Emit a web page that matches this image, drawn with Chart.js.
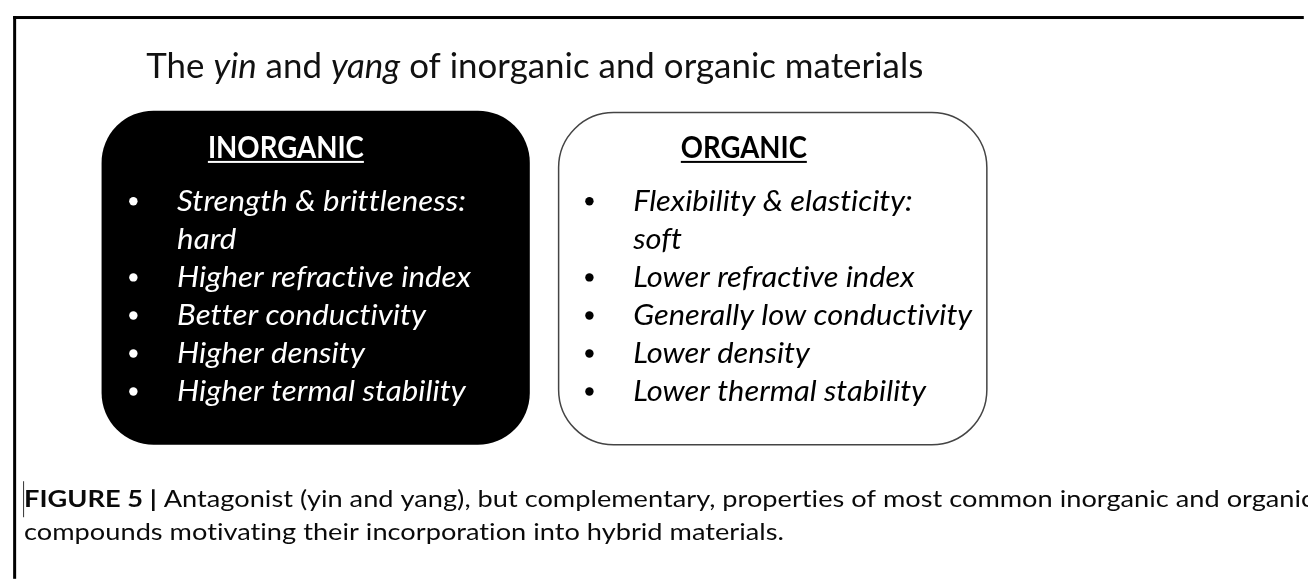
<!DOCTYPE html>
<html>
<head>
<meta charset="utf-8">
<script src="https://cdn.jsdelivr.net/npm/chart.js@4.4.0/dist/chart.umd.min.js"></script>
<style>
  html, body { margin: 0; padding: 0; background: #fff; }
  #wrap { width: 1308px; height: 583px; }
</style>
</head>
<body>
<div id="wrap"><canvas id="myChart" width="1308" height="583"></canvas></div>
<script>
// texts of the figure
var titleParts = [
    ['The ', false], ['yin', true], [' and ', false], ['yang', true], [' of inorganic and organic materials', false]
];
var inorganicHeading = 'INORGANIC';
var organicHeading = 'ORGANIC';
// each item: [line text, starts with a bullet]
var inorganicLines = [
    ['Strength & brittleness:', true],
    ['hard', false],
    ['Higher refractive index', true],
    ['Better conductivity', true],
    ['Higher density', true],
    ['Higher termal stability', true]
];
var organicLines = [
    ['Flexibility & elasticity:', true],
    ['soft', false],
    ['Lower refractive index', true],
    ['Generally low conductivity', true],
    ['Lower density', true],
    ['Lower thermal stability', true]
];
var captionLabel = 'FIGURE 5 |';
var captionLines = [
    ' Antagonist (yin and yang), but complementary, properties of most common inorganic and organic',
    'compounds motivating their incorporation into hybrid materials.'
];

var FONT = 'Lato, "Open Sans", sans-serif';

// layout (canvas pixels, mapped through the hidden linear scales)
var firstBaseline = 210, lineStep = 38.6;
var leftBox = { x0: 98, x1: 529, y0: 108, y1: 447, r: 52, bulletX: 130, textX: 174, headX: 205, headW: 156, longest: 294 };
var rightBox = { x0: 558, x1: 989, y0: 110, y1: 447, r: 55, bulletX: 589, textX: 633, headX: 681, headW: 126, longest: 339 };

function bulletPoints(lines, box) {
    var pts = [];
    lines.forEach(function (l, i) {
        if (l[1]) pts.push({ x: box.bulletX, y: firstBaseline + i * lineStep - 10 });
    });
    return pts;
}

function fontStr(italic, bold, size) {
    return (italic ? 'italic ' : '') + (bold ? 'bold ' : '') + size + 'px ' + FONT;
}

function runsWidth(ctx, runs) {
    var w = 0;
    runs.forEach(function (r) { ctx.font = r.font; w += ctx.measureText(r.text).width; });
    return w;
}

function drawRuns(ctx, runs, x, y, sx, color) {
    ctx.save();
    ctx.translate(x, y);
    ctx.scale(sx, 1);
    ctx.fillStyle = color;
    ctx.textBaseline = 'alphabetic';
    ctx.textAlign = 'left';
    var cx = 0;
    runs.forEach(function (r) {
        ctx.font = r.font;
        ctx.fillText(r.text, cx, 0);
        cx += ctx.measureText(r.text).width;
    });
    ctx.restore();
}

function roundBox(ctx, b, fill, stroke) {
    ctx.beginPath();
    ctx.roundRect(b.x0, b.y0, b.x1 - b.x0, b.y1 - b.y0, b.r);
    if (fill) { ctx.fillStyle = fill; ctx.fill(); }
    if (stroke) { ctx.strokeStyle = stroke; ctx.lineWidth = 1.5; ctx.stroke(); }
}

var figurePlugin = {
    id: 'figure',
    beforeDatasetsDraw: function (chart) {
        var ctx = chart.ctx;
        var sx = chart.scales.x, sy = chart.scales.y;
        function px(v) { return sx.getPixelForValue(v); }
        function py(v) { return sy.getPixelForValue(v); }

        ctx.save();
        // no "ti" ligatures, like the original
        if ('letterSpacing' in ctx) ctx.letterSpacing = '0.01px';

        // outer frame
        ctx.fillStyle = '#000';
        ctx.fillRect(px(9), py(12), px(1308) - px(9), 3);
        ctx.fillRect(px(9), py(12), 3, py(583) - py(12));

        // title
        var tRuns = titleParts.map(function (p) { return { text: p[0], font: fontStr(p[1], false, 35) }; });
        var tw = runsWidth(ctx, tRuns);
        drawRuns(ctx, tRuns, px(143), py(75), 777 / tw, '#111');

        // boxes
        roundBox(ctx, { x0: px(leftBox.x0), x1: px(leftBox.x1), y0: py(leftBox.y0), y1: py(leftBox.y1), r: leftBox.r }, '#000', null);
        roundBox(ctx, { x0: px(rightBox.x0), x1: px(rightBox.x1), y0: py(rightBox.y0), y1: py(rightBox.y1), r: rightBox.r }, '#fff', '#444');

        // headings, underlined
        [[inorganicHeading, leftBox, '#fff'], [organicHeading, rightBox, '#000']].forEach(function (h) {
            var runs = [{ text: h[0], font: fontStr(false, true, 30) }];
            var w = runsWidth(ctx, runs);
            var s = h[1].headW / w;
            drawRuns(ctx, runs, px(h[1].headX), py(156), s, h[2]);
            ctx.fillStyle = h[2];
            ctx.fillRect(px(h[1].headX), py(159), h[1].headW, 2);
        });

        // list lines
        [[inorganicLines, leftBox, '#fff'], [organicLines, rightBox, '#000']].forEach(function (blk) {
            var maxW = 0;
            blk[0].forEach(function (l) {
                maxW = Math.max(maxW, runsWidth(ctx, [{ text: l[0], font: fontStr(true, false, 28) }]));
            });
            var s = blk[1].longest / maxW;
            blk[0].forEach(function (l, i) {
                drawRuns(ctx, [{ text: l[0], font: fontStr(true, false, 28) }], px(blk[1].textX), py(firstBaseline + i * lineStep), s, blk[2]);
            });
        });

        // caption
        var capRuns = [{ text: captionLabel, font: fontStr(false, true, 23.5) }, { text: captionLines[0], font: fontStr(false, false, 23.5) }];
        var cw = runsWidth(ctx, capRuns);
        var cs = 1290 / cw;
        drawRuns(ctx, capRuns, px(20), py(510), cs, '#0a0a0a');
        drawRuns(ctx, [{ text: captionLines[1], font: fontStr(false, false, 23.5) }], px(20), py(544), cs, '#0a0a0a');
        ctx.fillStyle = '#333';
        ctx.fillRect(px(19), py(484), 1, 36);
        ctx.restore();
    }
};

var chart = new Chart(document.getElementById('myChart').getContext('2d'), {
    type: 'scatter',
    data: {
        datasets: [
            {
                label: 'inorganic bullets',
                data: bulletPoints(inorganicLines, leftBox),
                backgroundColor: '#fff',
                borderWidth: 0,
                pointRadius: 4.2
            },
            {
                label: 'organic bullets',
                data: bulletPoints(organicLines, rightBox),
                backgroundColor: '#000',
                borderWidth: 0,
                pointRadius: 4.2
            }
        ]
    },
    options: {
        responsive: false,
        animation: false,
        layout: { padding: 0 },
        scales: {
            x: { type: 'linear', min: 0, max: 1308, display: false },
            y: { type: 'linear', min: 0, max: 583, reverse: true, display: false }
        },
        plugins: {
            legend: { display: false },
            tooltip: { enabled: false }
        }
    },
    plugins: [figurePlugin]
});
</script>
</body>
</html>
